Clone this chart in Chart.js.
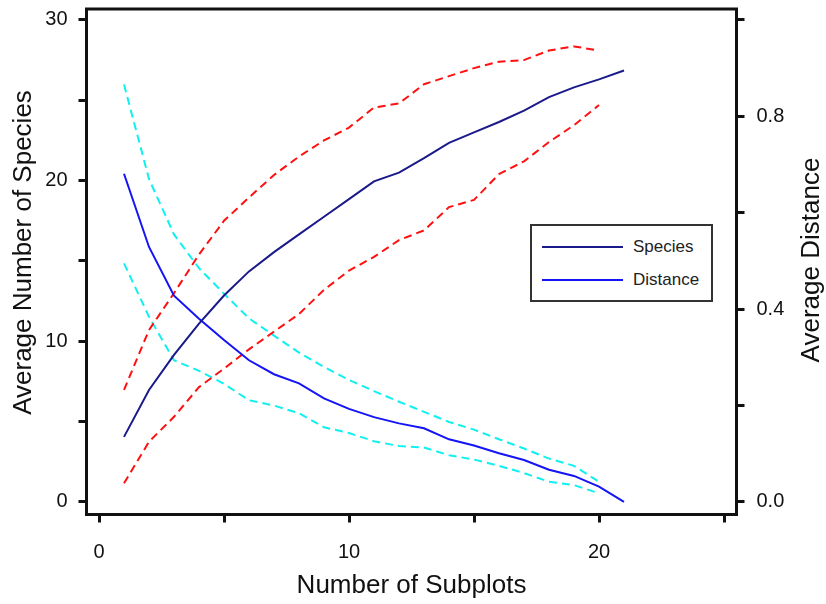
<!DOCTYPE html>
<html>
<head>
<meta charset="utf-8">
<script src="https://cdn.jsdelivr.net/npm/chart.js@4/dist/chart.umd.min.js"></script>
<style>
  html, body { margin: 0; padding: 0; background: #fff; }
  #wrap { position: relative; width: 826px; height: 604px; }
  canvas { display: block; }
  #legend {
    position: absolute; left: 530px; top: 224px; width: 183px; height: 78px;
    box-sizing: border-box; border: 2px solid #333; background: #fff;
    font-family: "Liberation Sans", Arial, sans-serif; font-size: 17px; color: #222;
  }
  #legend .item { position: absolute; left: 10px; height: 20px; display: flex; align-items: center; white-space: nowrap; }
  #legend .swatch { width: 81px; height: 0; border-top: 2px solid; margin-right: 10px; }
</style>
</head>
<body>
<div id="wrap">
  <canvas id="c" width="826" height="604"></canvas>
  <div id="legend"></div>
</div>
<script>
// ---- data ----
const subplots = [1,2,3,4,5,6,7,8,9,10,11,12,13,14,15,16,17,18,19,20,21];
const boundSubplots = [1,2,3,4,5,6,7,8,9,10,11,12,13,14,15,16,17,18,19,20];

const speciesMean  = [4.05, 6.97, 9.15, 11.1, 12.85, 14.35, 15.55, 16.65, 17.75, 18.85, 19.95, 20.5, 21.4, 22.35, 23.0, 23.65, 24.35, 25.2, 25.8, 26.3, 26.85];
const speciesUpper = [6.97, 10.7, 13.0, 15.4, 17.5, 18.95, 20.35, 21.5, 22.5, 23.3, 24.55, 24.8, 26.0, 26.5, 27.0, 27.4, 27.5, 28.1, 28.35, 28.1];
const speciesLower = [1.16, 3.75, 5.3, 7.15, 8.3, 9.5, 10.6, 11.7, 13.2, 14.4, 15.25, 16.3, 16.9, 18.35, 18.8, 20.4, 21.2, 22.4, 23.45, 24.7];

const distanceMean  = [0.681, 0.529, 0.428, 0.38, 0.336, 0.294, 0.265, 0.246, 0.215, 0.193, 0.176, 0.163, 0.153, 0.13, 0.117, 0.101, 0.087, 0.067, 0.054, 0.032, 0.0];
const distanceUpper = [0.866, 0.67, 0.555, 0.485, 0.432, 0.381, 0.345, 0.31, 0.28, 0.253, 0.23, 0.208, 0.187, 0.166, 0.15, 0.13, 0.111, 0.09, 0.075, 0.042];
const distanceLower = [0.495, 0.384, 0.294, 0.272, 0.245, 0.211, 0.2, 0.184, 0.155, 0.143, 0.126, 0.116, 0.113, 0.097, 0.088, 0.075, 0.06, 0.042, 0.035, 0.018];

const xTicksLabelled = [0, 10, 20];
const leftTicksLabelled = [0, 10, 20, 30];
const rightTicksLabelled = [0.0, 0.4, 0.8];

const seriesNames = ['Species', 'Distance'];
const xTitle = 'Number of Subplots';
const leftTitle = 'Average Number of Species';
const rightTitle = 'Average Distance';

// ---- styling ----
const FONT = '"Liberation Sans", Arial, Helvetica, sans-serif';
const NAVY = '#1a1a8a';
const BLUE = '#1414f5';
const RED = '#ff1010';
const CYAN = '#10f0f0';
const INK = '#111';

const pts = (xs, ys) => xs.map((x, i) => ({ x: x, y: ys[i] }));

const framePlugin = {
  id: 'frame',
  afterDraw(chart) {
    const { ctx, chartArea: a } = chart;
    ctx.save();
    ctx.strokeStyle = INK;
    ctx.lineWidth = 3;
    ctx.strokeRect(a.left, a.top, a.right - a.left, a.bottom - a.top);
    // side titles (both read bottom-to-top as in the reference)
    ctx.fillStyle = INK;
    ctx.font = '26px ' + FONT;
    ctx.textAlign = 'center';
    ctx.textBaseline = 'middle';
    ctx.translate(24, 252.5);
    ctx.rotate(-Math.PI / 2);
    ctx.fillText(leftTitle, 0, 0);
    ctx.restore();
    ctx.save();
    ctx.fillStyle = INK;
    ctx.font = '26px ' + FONT;
    ctx.textAlign = 'center';
    ctx.textBaseline = 'middle';
    ctx.translate(812, 260);
    ctx.rotate(-Math.PI / 2);
    ctx.fillText(rightTitle, 0, 0);
    ctx.restore();
  }
};

const tickGrid = { display: true, drawOnChartArea: false, drawTicks: true, tickLength: 8, tickWidth: 3, tickColor: INK };
const noPad = s => { s.paddingTop = 0; s.paddingBottom = 0; s.paddingLeft = 0; s.paddingRight = 0; };

const chart = new Chart(document.getElementById('c'), {
  type: 'line',
  data: {
    datasets: [
      { label: seriesNames[0], data: pts(subplots, speciesMean), yAxisID: 'y', borderColor: NAVY, borderWidth: 2 },
      { label: seriesNames[1], data: pts(subplots, distanceMean), yAxisID: 'y1', borderColor: BLUE, borderWidth: 2 },
      { label: 'Species upper', data: pts(boundSubplots, speciesUpper), yAxisID: 'y', borderColor: RED, borderWidth: 2, borderDash: [8, 5] },
      { label: 'Species lower', data: pts(boundSubplots, speciesLower), yAxisID: 'y', borderColor: RED, borderWidth: 2, borderDash: [8, 5] },
      { label: 'Distance upper', data: pts(boundSubplots, distanceUpper), yAxisID: 'y1', borderColor: CYAN, borderWidth: 2, borderDash: [8, 5] },
      { label: 'Distance lower', data: pts(boundSubplots, distanceLower), yAxisID: 'y1', borderColor: CYAN, borderWidth: 2, borderDash: [8, 5] }
    ]
  },
  options: {
    responsive: false,
    animation: false,
    devicePixelRatio: 1,
    layout: { padding: { top: 9, left: 0, right: 0, bottom: 0 } },
    elements: { point: { radius: 0 }, line: { tension: 0, fill: false } },
    plugins: { legend: { display: false }, tooltip: { enabled: false } },
    scales: {
      x: {
        type: 'linear', position: 'bottom', min: -0.5, max: 25.5,
        afterFit(s) { s.height = 89.5; noPad(s); },
        border: { display: false },
        grid: tickGrid,
        ticks: {
          stepSize: 5, includeBounds: false, autoSkip: false, maxRotation: 0,
          padding: 18, color: INK, font: { family: FONT, size: 20 },
          callback: v => xTicksLabelled.includes(v) ? String(v) : ''
        },
        title: { display: true, text: xTitle, color: INK, font: { family: FONT, size: 26 }, padding: { top: 0, bottom: 3 } }
      },
      y: {
        type: 'linear', position: 'left', min: -0.78, max: 30.68,
        afterFit(s) { s.width = 86.5; noPad(s); },
        border: { display: false },
        grid: tickGrid,
        ticks: {
          stepSize: 5, includeBounds: false, autoSkip: false,
          padding: 11, color: INK, font: { family: FONT, size: 20 },
          callback: v => leftTicksLabelled.includes(v) ? String(v) : ''
        }
      },
      y1: {
        type: 'linear', position: 'right', min: -0.026, max: 1.0227,
        afterFit(s) { s.width = 89.5; noPad(s); },
        border: { display: false },
        grid: tickGrid,
        ticks: {
          stepSize: 0.2, includeBounds: false, autoSkip: false,
          padding: 12, color: INK, font: { family: FONT, size: 20 },
          callback: v => rightTicksLabelled.some(t => Math.abs(t - v) < 1e-6) ? v.toFixed(1) : ''
        }
      }
    }
  },
  plugins: [framePlugin]
});

// HTML legend built from the chart's own datasets
const legend = document.getElementById('legend');
[0, 1].forEach((di, k) => {
  const ds = chart.data.datasets[di];
  const item = document.createElement('div');
  item.className = 'item';
  item.style.top = (k === 0 ? 11 : 44) + 'px';
  const sw = document.createElement('span');
  sw.className = 'swatch';
  sw.style.borderTopColor = ds.borderColor;
  const tx = document.createElement('span');
  tx.textContent = ds.label;
  item.appendChild(sw);
  item.appendChild(tx);
  legend.appendChild(item);
});
</script>
</body>
</html>
